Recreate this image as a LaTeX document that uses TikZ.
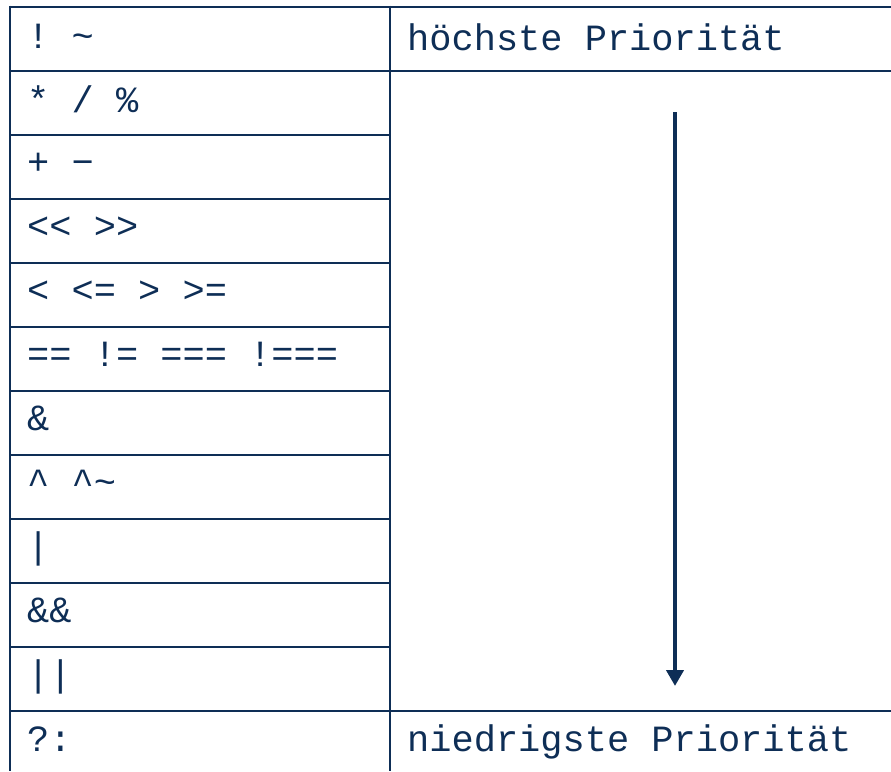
\documentclass[tikz,border=0pt]{standalone}
\usepackage{fontspec}
\setmonofont{Liberation Mono}
\usetikzlibrary{arrows.meta}
\definecolor{navy}{RGB}{14,46,86}
\begin{document}
\begin{tikzpicture}[x=1pt,y=-1pt,
  gridline/.style={draw=navy,line width=2.7pt},
  celltext/.style={anchor=base west,inner sep=0pt,text=navy,font=\ttfamily\fontsize{37}{37}\selectfont},
  prioarrow/.style={draw=navy,line width=4.5pt,-{Triangle[width=17pt,length=16pt]}}]
\useasboundingbox (0,0) rectangle (891,771);
% grid
\draw[gridline] (10,7) -- (891,7);
\draw[gridline] (10,71) -- (891,71);
\draw[gridline] (10,711) -- (891,711);
\foreach \y in {135,199,263,327,391,455,519,583,647} {
  \draw[gridline] (10,\y) -- (390,\y);
}
\draw[gridline] (10,5.65) -- (10,771);
\draw[gridline] (390,5.65) -- (390,771);
% left column
\node[celltext] (r1) at (27,48) {!\ \char`\~};
\node[celltext] (r2) at (27,112) {*\ /\ \%};
\node[celltext] (r3) at (27,174) {+\ −};
\node[celltext] (r4) at (27,238) {<<\ >>};
\node[celltext] (r5) at (27,302) {<\ <=\ >\ >=};
\node[celltext] (r6) at (27,366) {==\ !=\ ===\ !===};
\node[celltext] (r7) at (27,430) {\&};
\node[celltext] (r8) at (27,494) {\char`\^\ \char`\^\char`\~};
\node[celltext] (r9) at (27,558) {|};
\node[celltext] (r10) at (27,622) {\&\&};
\node[celltext] (r11) at (27,686) {||};
\node[celltext] (r12) at (27,751) {?:};
% right column
\node[celltext] (hi) at (407,50) {höchste Priorität};
\node[celltext] (lo) at (407,751) {niedrigste Priorität};
% arrow
\coordinate (astart) at (675,112);
\coordinate (aend) at (675,686);
\draw[prioarrow] (astart) -- (aend);
\end{tikzpicture}
\end{document}
